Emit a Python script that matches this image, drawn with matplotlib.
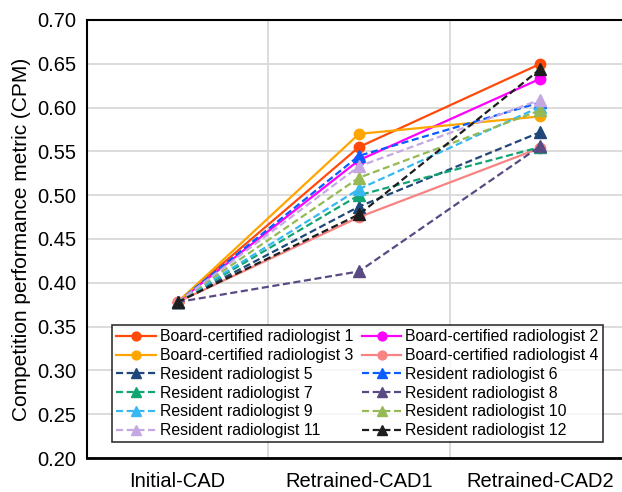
import numpy as np
import matplotlib
matplotlib.use("Agg")
import matplotlib.pyplot as plt

plt.rcParams['font.family'] = ['Liberation Sans', 'DejaVu Sans']

STAGES = ['Initial-CAD', 'Retrained-CAD1', 'Retrained-CAD2']

LABELS = ['Board-certified radiologist 1', 'Board-certified radiologist 2',
          'Board-certified radiologist 3', 'Board-certified radiologist 4',
          'Resident radiologist 5', 'Resident radiologist 6',
          'Resident radiologist 7', 'Resident radiologist 8',
          'Resident radiologist 9', 'Resident radiologist 10',
          'Resident radiologist 11', 'Resident radiologist 12']

INITIAL = [0.378] * 12
CAD1 = [0.555, 0.540, 0.570, 0.475, 0.487, 0.545,
        0.500, 0.413, 0.507, 0.520, 0.533, 0.478]
CAD2 = [0.650, 0.633, 0.590, 0.554, 0.572, 0.606,
        0.555, 0.556, 0.601, 0.597, 0.609, 0.644]

COLORS = ['#FF4A0A', '#FF00FF', '#FFA500', '#F88383', '#1F477A', '#0A5CFF',
          '#10A571', '#5A4A84', '#38B8F0', '#95BA55', '#C5A8E2', '#1E1E1E']

fig = plt.figure(figsize=(6.22, 4.92), dpi=100)
ax = fig.add_axes([87 / 622, 34 / 492, 535 / 622, 438 / 492])

x = np.arange(len(STAGES))
handles = []
for i, lab in enumerate(LABELS):
    y = [INITIAL[i], CAD1[i], CAD2[i]]
    board = i < 4
    h, = ax.plot(x, y, color=COLORS[i], linestyle='-' if board else (0, (3.2, 1.6)),
                 marker='o' if board else '^', markersize=7.5 if board else 8,
                 linewidth=1.6, label=lab)
    handles.append(h)

ax.set_xlim(-0.5, 2.45)
ax.set_ylim(0.20, 0.70)
ticks = np.arange(0.20, 0.701, 0.05)
ax.set_yticks(ticks)
ax.set_yticklabels([f'{v:.2f}' for v in ticks])
ax.set_xticks(x)
ax.set_xticklabels(STAGES)
ax.set_xticks([0.5, 1.5], minor=True)
ax.tick_params(axis='both', which='both', length=0, labelsize=14.5)
ax.tick_params(axis='x', pad=10)
ax.tick_params(axis='y', pad=8)
ax.grid(axis='y', which='major', color='#D9D9D9', linewidth=1.3)
ax.grid(axis='x', which='minor', color='#D9D9D9', linewidth=1.3)
ax.set_axisbelow(True)
ax.spines['right'].set_visible(False)
for s in ('left', 'top'):
    ax.spines[s].set_linewidth(1.5)
ax.spines['bottom'].set_linewidth(2)
ax.set_ylabel('Competition performance metric (CPM)', fontsize=15, labelpad=4)

# legend is filled row by row in the original: reorder for column-major fill
order = list(range(0, 12, 2)) + list(range(1, 12, 2))
leg = ax.legend([handles[k] for k in order], [LABELS[k] for k in order],
                ncol=2, loc='lower left', bbox_to_anchor=(0.047, 0.036),
                borderaxespad=0, fontsize=11.4, frameon=True, fancybox=False,
                edgecolor='black', handlelength=2.5, handletextpad=0.25,
                columnspacing=0.55, labelspacing=0.24, borderpad=0.25,
                numpoints=1, markerscale=0.85)
leg.get_frame().set_linewidth(1.2)

fig.savefig('out.png', dpi=100)
